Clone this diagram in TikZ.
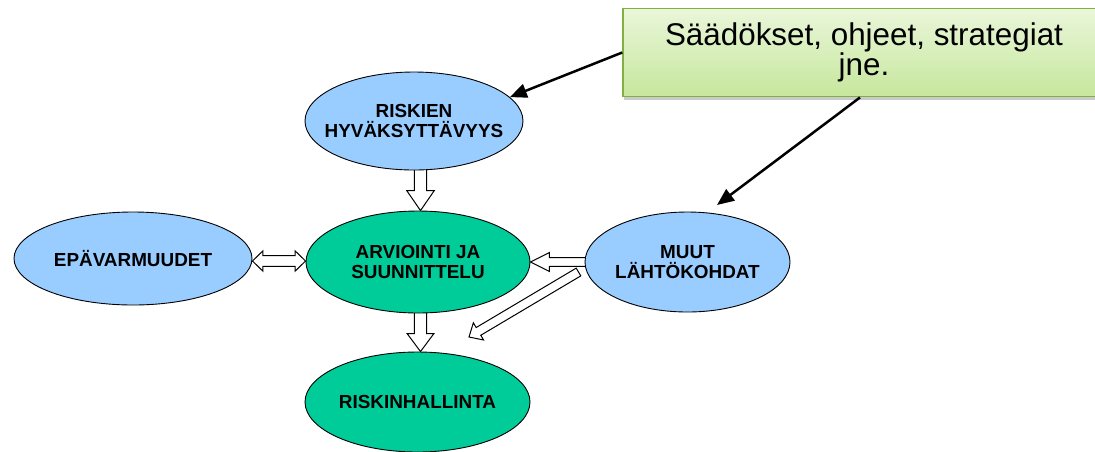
\documentclass[tikz,border=0pt]{standalone}
\usepackage{fontspec}
\setmainfont{Liberation Sans}
\usetikzlibrary{shapes.geometric,calc,arrows.meta,shadows}
\pgfdeclarelayer{background}
\pgfsetlayers{background,main}

\definecolor{ovalblue}{HTML}{99CCFF}
\definecolor{ovalgreen}{HTML}{00CC99}
\definecolor{notetop}{RGB}{234,246,218}
\definecolor{notebottom}{RGB}{198,231,156}
\definecolor{noteedge}{RGB}{128,176,68}

% hollow block arrow: tail, tip, half shaft width, half head width, head length
\newcommand\blockarrow[5]{%
  \coordinate (ba-h) at ($(#2)!#5!(#1)$);
  \draw[hollowarrow] ($(#1)!#3!90:(#2)$) -- ($(ba-h)!#3!90:(#2)$)
    -- ($(ba-h)!#4!90:(#2)$) -- (#2) -- ($(ba-h)!#4!-90:(#2)$)
    -- ($(ba-h)!#3!-90:(#2)$) -- ($(#1)!#3!-90:(#2)$) -- cycle;}

% hollow block arrow with heads at both ends
\newcommand\twinarrow[5]{%
  \coordinate (ta-a) at ($(#1)!#5!(#2)$);
  \coordinate (ta-b) at ($(#2)!#5!(#1)$);
  \draw[hollowarrow] (#1) -- ($(ta-a)!#4!90:(#2)$) -- ($(ta-a)!#3!90:(#2)$)
    -- ($(ta-b)!#3!-90:(#1)$) -- ($(ta-b)!#4!-90:(#1)$) -- (#2)
    -- ($(ta-b)!#4!90:(#1)$) -- ($(ta-b)!#3!90:(#1)$)
    -- ($(ta-a)!#3!-90:(#2)$) -- ($(ta-a)!#4!-90:(#2)$) -- cycle;}

\tikzset{
  oval/.style={ellipse, draw=black, line width=0.9pt, inner sep=0pt},
  ovaltext/.style={align=center, inner sep=0pt,
    font=\fontsize{18.9}{20}\selectfont\bfseries},
  blueoval/.style={oval, fill=ovalblue},
  greenoval/.style={oval, fill=ovalgreen},
  hollowarrow/.style={draw=black, fill=white, line width=1pt, line join=miter},
  note/.style={rectangle, draw=noteedge, line width=1.5pt,
    top color=notetop, bottom color=notebottom, align=center,
    font=\fontsize{31.4}{30}\selectfont,
    drop shadow={shadow xshift=1pt, shadow yshift=-3pt, opacity=0.35, fill=black!60}},
  pointer/.style={draw=black, line width=2.5pt,
    -{Triangle[length=17pt,width=14pt]}}
}

\begin{document}
\begin{tikzpicture}[x=1pt,y=-1pt]
\useasboundingbox (0,0) rectangle (1095,451);

% ovals, each with its caption set as a centred label
\node[blueoval, minimum width=218pt, minimum height=98pt,
  label={[ovaltext]center:{RISKIEN\\HYVÄKSYTTÄVYYS}}] (ris) at (414,121) {};
\node[greenoval, minimum width=224pt, minimum height=102pt,
  label={[ovaltext]center:{ARVIOINTI JA\\SUUNNITTELU}}] (arv) at (418,262) {};
\node[blueoval, minimum width=238pt, minimum height=93pt,
  label={[ovaltext]center:{EPÄVARMUUDET}}] (epa) at (133,258.5) {};
\node[blueoval, minimum width=205pt, minimum height=100pt,
  label={[ovaltext]center:{MUUT\\LÄHTÖKOHDAT}}] (muu) at (687.5,262) {};
\node[greenoval, minimum width=225pt, minimum height=100pt,
  label={[ovaltext]center:{RISKINHALLINTA}}] (rh) at (417.5,402) {};

% note box
\node[note, minimum width=482pt, minimum height=88.4pt] (box) at (864,52.5)
  {Säädökset, ohjeet, strategiat\\jne.};

% anchor points of the block arrows
\coordinate (a1t) at ([xshift=6.5pt]ris.center);
\coordinate (a1p) at ([xshift=2.5pt]arv.north);
\coordinate (a2t) at ([xshift=2.5pt]arv.center);
\coordinate (a2p) at ([xshift=3pt]rh.north);
\coordinate (a3l) at ([yshift=-2.5pt]epa.east);
\coordinate (a3r) at ([yshift=1pt]arv.west);
\coordinate (a4t) at (muu.center);
\coordinate (a4p) at (arv.east);
\coordinate (d1) at (578.5,272);
\coordinate (d2) at (469,337);
\coordinate (p2) at (717,205);

\begin{pgfonlayer}{background}
  \blockarrow{a1t}{a1p}{6.2pt}{13.8pt}{20pt}
  \blockarrow{a2t}{a2p}{6.2pt}{13.4pt}{18pt}
  \twinarrow{a3l}{a3r}{5.3pt}{10.2pt}{10.5pt}
  \blockarrow{a4t}{a4p}{4.4pt}{9.5pt}{19pt}
\end{pgfonlayer}
\blockarrow{d1}{d2}{4.5pt}{10pt}{11pt}

% black pointers from the note
\draw[pointer] (box.west) -- (ris.14);
\draw[pointer] ([xshift=-4pt]box.south) -- (p2);
\end{tikzpicture}
\end{document}
